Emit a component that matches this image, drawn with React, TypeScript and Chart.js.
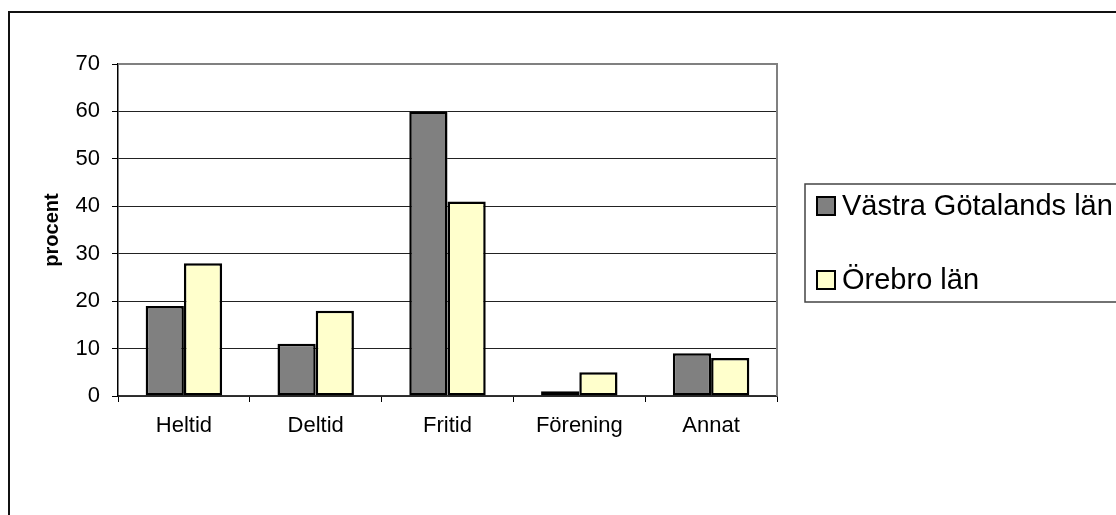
import React, { useEffect, useRef } from "react";
import { Chart, registerables } from "chart.js";

Chart.register(...registerables);

const categories = ["Heltid", "Deltid", "Fritid", "Förening", "Annat"];
const seriesNames = ["Västra Götalands län", "Örebro län"];
const vastraGotaland = [19, 11, 60, 1, 9];
const orebro = [28, 18, 41, 5, 8];
const yTicks = [0, 10, 20, 30, 40, 50, 60, 70];
const yTitle = "procent";

const FONT = '"Liberation Sans", Arial, sans-serif';

const framePlugin = {
  id: "framePlugin",
  beforeDraw(chart: any) {
    const ctx = chart.ctx;
    ctx.save();
    ctx.fillStyle = "#fff";
    ctx.fillRect(0, 0, chart.width, chart.height);
    ctx.restore();
  },
  afterDraw(chart: any) {
    const ctx = chart.ctx;
    const a = chart.chartArea;
    ctx.save();
    // outer frame (top + left)
    ctx.strokeStyle = "#111";
    ctx.lineWidth = 2;
    ctx.beginPath();
    ctx.moveTo(9, chart.height + 5);
    ctx.lineTo(9, 12);
    ctx.lineTo(chart.width + 5, 12);
    ctx.stroke();
    // plot area border: top and right (gray)
    ctx.strokeStyle = "#808080";
    ctx.lineWidth = 2;
    ctx.beginPath();
    ctx.moveTo(a.left, a.top);
    ctx.lineTo(a.right, a.top);
    ctx.lineTo(a.right, a.bottom);
    ctx.stroke();
    // legend
    const lx = 805, ly = 184, lb = 302;
    ctx.strokeStyle = "#444";
    ctx.lineWidth = 1.5;
    ctx.beginPath();
    ctx.moveTo(chart.width + 5, ly);
    ctx.lineTo(lx, ly);
    ctx.lineTo(lx, lb);
    ctx.lineTo(chart.width + 5, lb);
    ctx.stroke();
    const centers = [206, 280];
    chart.data.datasets.forEach((ds: any, i: number) => {
      const cy = centers[i];
      ctx.fillStyle = ds.backgroundColor;
      ctx.fillRect(817, cy - 9, 18, 18);
      ctx.strokeStyle = "#000";
      ctx.lineWidth = 2;
      ctx.strokeRect(817, cy - 9, 18, 18);
      ctx.fillStyle = "#000";
      ctx.font = `29px ${FONT}`;
      ctx.textBaseline = "middle";
      ctx.textAlign = "left";
      ctx.fillText(ds.label, 842, cy + 1);
    });
    ctx.restore();
  },
};

export default function App() {
  const ref = useRef<HTMLCanvasElement>(null);
  useEffect(() => {
    document.body.style.margin = "0";
    document.body.style.overflow = "hidden";
    const chart = new Chart(ref.current as HTMLCanvasElement, {
      type: "bar",
      data: {
        labels: categories,
        datasets: [
          {
            label: seriesNames[0],
            data: vastraGotaland,
            backgroundColor: "#808080",
            borderColor: "#000",
            borderWidth: 2.5,
            borderSkipped: false,
            categoryPercentage: 0.58,
            barPercentage: 1.0,
          },
          {
            label: seriesNames[1],
            data: orebro,
            backgroundColor: "#FFFFCC",
            borderColor: "#000",
            borderWidth: 2.5,
            borderSkipped: false,
            categoryPercentage: 0.58,
            barPercentage: 1.0,
          },
        ],
      },
      options: {
        animation: false,
        responsive: false,
        layout: { padding: { left: 0, top: 64, right: 339, bottom: 0 } },
        plugins: { legend: { display: false }, tooltip: { enabled: false } },
        scales: {
          x: {
            grid: {
              drawOnChartArea: false,
              offset: true,
              drawTicks: true,
              tickLength: 6,
              color: "#000",
            },
            border: { color: "#333", width: 1.5 },
            ticks: {
              color: "#000",
              font: { family: FONT, size: 22 },
              padding: 11,
              maxRotation: 0,
            },
            afterFit(s: any) {
              s.height = 119;
            },
          },
          y: {
            min: 0,
            max: 70,
            afterBuildTicks(s: any) {
              s.ticks = yTicks.map((v) => ({ value: v }));
            },
            grid: {
              color: (c: any) => (c.tick && c.tick.value === 70 ? "rgba(0,0,0,0)" : "#222"),
              tickColor: "#000",
              tickLength: 6,
              lineWidth: 1,
            },
            border: { color: "#000", width: 1.5 },
            ticks: {
              color: "#000",
              font: { family: FONT, size: 22 },
              padding: 12,
            },
            title: {
              display: true,
              text: yTitle,
              color: "#000",
              font: { family: FONT, size: 20, weight: "bold" },
              padding: { top: 40, bottom: 0 },
            },
            afterFit(s: any) {
              s.width = 118;
            },
          },
        },
      },
      plugins: [framePlugin],
    });
    return () => chart.destroy();
  }, []);
  return (
    <div style={{ position: "fixed", left: 0, top: 0, width: 1116, height: 515 }}>
      <canvas ref={ref} width={1116} height={515} style={{ display: "block" }} />
    </div>
  );
}
